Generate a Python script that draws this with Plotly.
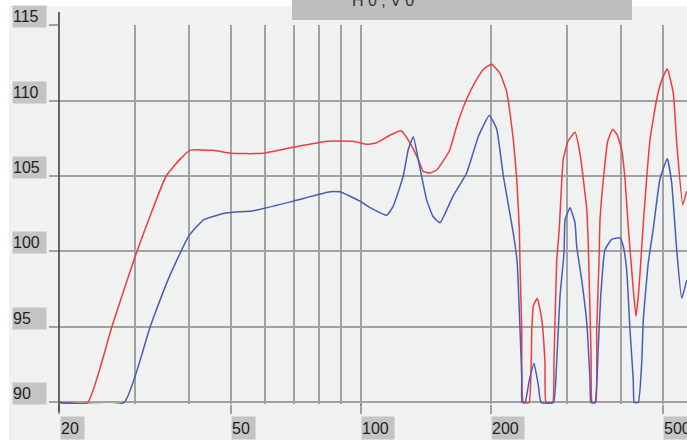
import math
import plotly.graph_objects as go

# ---- data (frequency in Hz, level in dB) ----
red_freq = [20, 23.3, 26.5, 30.3, 35.4, 38.1, 40.2, 45.5, 50, 59.3, 69.6, 83.5, 95.9,
            103.3, 108.7, 116.7, 123.8, 129.9, 135.7, 139.4, 144.5, 149.7, 155.1,
            160.7, 166.6, 175.7, 185.3, 192, 200.7, 209.8, 217.4, 221.3, 225.3,
            229.4, 232.6, 233.4, 235.6, 237.6, 245, 248.6, 250.7, 256, 262.2,
            266.7, 268.2, 277.9, 279.8, 283.8, 287.8, 294, 301.6, 313, 321.4,
            333.2, 336, 341, 342.8, 349.6, 351.4, 355.7, 357.6, 365.3, 372.6,
            382.6, 391.4, 401.4, 408.6, 415.8, 427, 433.3, 440, 446, 450.5,
            466.9, 483.9, 497.7, 511.8, 528.5, 538.3, 555.8, 567.8]
red_db = [90, 90, 95, 100, 105, 106.1, 106.7, 106.7, 106.5, 106.5, 106.9, 107.3, 107.3,
          107.1, 107.2, 107.7, 108.0, 107.2, 106.1, 105.3, 105.2, 105.4, 106.0,
          106.75, 108.3, 110.1, 111.4, 112.05, 112.4, 111.8, 110.6, 109.2, 107.4,
          104.8, 101.5, 99.3, 94.8, 90, 90, 94.8, 96.4, 96.9, 95.5,
          92.6, 90, 90, 92.6, 99.3, 101.5, 106.1, 107.3, 107.9, 106.5,
          102.8, 100.4, 93, 90, 90, 94.8, 99.3, 102.1, 105.2, 107.3,
          108.1, 107.75, 106.75, 104.8, 101.6, 97.5, 95.7, 97.5, 100, 101.9,
          107.4, 110.1, 111.4, 112.1, 110.5, 107.2, 103.1, 104.0]

blue_freq = [20, 28.3, 32.5, 36.1, 39.9, 43.2, 48.9, 56.4, 69.7, 84.8, 89.4, 99.5,
             105, 114.7, 118.8, 125.3, 128.7, 132.2, 135.7, 142, 147, 152.4, 163.6,
             175.7, 186.9, 198.2, 206.2, 213.6, 225.3, 229.9, 235.6, 236, 239.8,
             245.4, 251.6, 257.5, 261.2, 278.9, 283.8, 288.9, 295.2, 296.9, 304.8,
             313, 315.8, 324.4, 333.2, 339, 340.7, 348.2, 354.4, 358.9, 367.1,
             380.6, 397.8, 404.8, 412.2, 419.6, 427, 429.2, 438.6, 446.6, 450.5,
             462.6, 475, 492.3, 511.8, 524, 538.3, 552.7, 567.8]
blue_db = [90, 90, 95, 98.4, 101.0, 102.1, 102.56, 102.7, 103.33, 103.95, 103.95, 103.33,
           102.9, 102.4, 103.0, 105.0, 106.75, 107.6, 106.1, 103.4, 102.3, 101.9, 103.7,
           105.2, 107.6, 109.0, 108.1, 105.0, 101.2, 99.3, 91.7, 90, 90,
           91.5, 92.6, 91.1, 90, 90, 92.6, 97.0, 99.9, 102.1, 102.9,
           101.9, 100.35, 98.1, 95.3, 91.5, 90, 90, 93.7, 97.0, 100.1,
           100.8, 100.9, 100.35, 98.8, 94.8, 91.5, 90, 90, 92.6, 95.5,
           99.25, 101.5, 104.8, 106.15, 104.55, 100.1, 96.9, 98.1]

x_major = [20, 50, 100, 200, 500]
x_labels = ["20", "50", "100", "200", "500"]
x_minor = [30, 40, 60, 70, 80, 90, 300, 400]
y_ticks = [90, 95, 100, 105, 110, 115]
y_labels = ["90", "95", "100", "105", "110", "115"]
top_text = "H 0 , V 0"

PANEL = "#f0f1f1"
GRID = "#a2a2a2"
DARK = "#454545"
LABEL_BG = "#c4c4c4"
FONT = "Liberation Sans, Arial, sans-serif"

fig = go.Figure()
fig.add_trace(go.Scatter(x=red_freq, y=red_db, mode="lines",
                         line=dict(color="#f23a3f", width=1.5, shape="spline", smoothing=0.4),
                         hoverinfo="skip", showlegend=False))
fig.add_trace(go.Scatter(x=blue_freq, y=blue_db, mode="lines",
                         line=dict(color="#4a5db6", width=1.5, shape="spline", smoothing=0.4),
                         hoverinfo="skip", showlegend=False))

W, H = 687, 441
ML, MR, MT, MB = 59, 0, 25, 37
PH = H - MT - MB
PW = W - ML - MR


def py(p):
    return (H - MB - p) / PH


def px(p):
    return (p - ML) / PW


shapes = [
    # light panel
    dict(type="rect", xref="paper", yref="paper", x0=px(9), x1=1.0, y0=py(440), y1=py(6),
         fillcolor=PANEL, line=dict(width=0), layer="below"),
    # top grey bar
    dict(type="rect", xref="paper", yref="paper", x0=px(292), x1=px(632), y0=py(20), y1=py(-5),
         fillcolor="#bebebe", line=dict(width=0), layer="above"),
    # dark axis line at 20 Hz (extends above/below grid)
    dict(type="line", xref="paper", yref="paper", x0=0, x1=0, y0=py(412), y1=py(12),
         line=dict(color=DARK, width=1.6), layer="above"),
    # dark line at 100 Hz
    dict(type="line", xref="x", yref="paper", x0=100, x1=100, y0=py(412), y1=py(25),
         line=dict(color=DARK, width=1.4), layer="between"),
]

annotations = []
for v, t in zip(y_ticks, y_labels):
    annotations.append(dict(xref="paper", yref="y", x=px(11.5), y=v, xanchor="left",
                            yanchor="bottom", yshift=-3, text=t, showarrow=False,
                            bgcolor=LABEL_BG, width=33, height=21, align="left",
                            borderpad=0, font=dict(family=FONT, size=16, color="#1e1e1e")))
for v, t in zip(x_major, x_labels):
    annotations.append(dict(xref="x", yref="paper", x=math.log10(v), y=py(439.5), xanchor="left",
                            yanchor="bottom", xshift=0.5, text=t, showarrow=False,
                            bgcolor=LABEL_BG, width=23 if len(t) == 2 else 32, height=22,
                            align="left", borderpad=0,
                            font=dict(family=FONT, size=16, color="#1e1e1e")))
annotations.append(dict(xref="paper", yref="paper", x=px(383), y=py(0), xanchor="center",
                        yanchor="middle", text=top_text, showarrow=False,
                        font=dict(family=FONT, size=16, color="#333333")))

fig.update_layout(
    width=W, height=H,
    margin=dict(l=ML, r=MR, t=MT, b=MB, pad=0),
    paper_bgcolor="white",
    plot_bgcolor=PANEL,
    shapes=shapes,
    annotations=annotations,
    xaxis=dict(type="log", range=[math.log10(20), math.log10(568.6)],
               tickvals=x_major, showticklabels=False, showgrid=True,
               gridcolor=GRID, gridwidth=1.5, ticks="outside", ticklen=9,
               tickcolor=GRID, tickwidth=1.5, zeroline=False, showline=False,
               minor=dict(tickvals=x_minor, showgrid=True, gridcolor=GRID,
                          gridwidth=1.5, ticks="")),
    yaxis=dict(range=[89.9, 115], tickvals=y_ticks, showticklabels=False,
               showgrid=True, gridcolor=GRID, gridwidth=1.5, ticks="outside",
               ticklen=9, tickcolor=GRID, tickwidth=1.5, zeroline=False,
               showline=False),
)

fig.write_html("out.html", config={"displayModeBar": False},
               post_script="document.body.style.margin='0';document.body.style.padding='0';")
